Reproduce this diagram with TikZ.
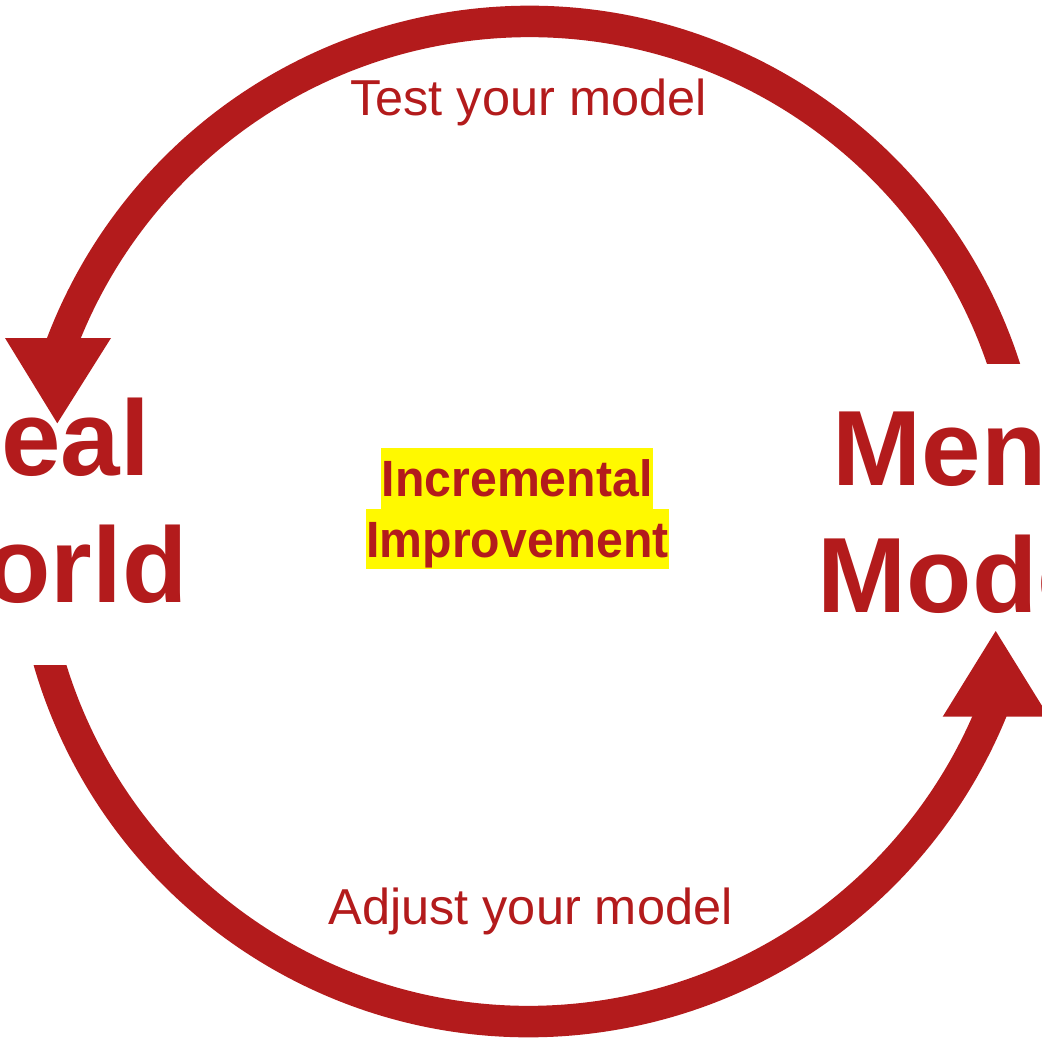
\documentclass[tikz,border=0pt]{standalone}
\usepackage{fontspec}
\setmainfont{Liberation Sans}
\newfontfamily\narrowsans[FakeStretch=0.945]{Liberation Sans}
\definecolor{cyclered}{RGB}{179,27,28}
\definecolor{hilite}{RGB}{255,249,0}
\begin{document}
\begin{tikzpicture}[x=1pt,y=-1pt,
  arcline/.style={draw=cyclered, line width=31.5pt},
  tiphead/.style={fill=cyclered},
  steplabel/.style={text=cyclered, font=\fontsize{50.5}{60}\selectfont, anchor=base, inner sep=0pt},
  bigword/.style={text=cyclered, font=\bfseries\fontsize{107}{127.7}\selectfont, align=center, inner sep=0pt, anchor=base},
  hl/.style={fill=hilite, text=cyclered, font=\narrowsans\bfseries\fontsize{51}{61}\selectfont, inner sep=0pt, text height=36.5pt, text depth=0pt}]
\useasboundingbox (0,0) rectangle (1042,1039);
\clip (0,0) rectangle (1042,1039);
\coordinate (c) at (529,521.5);
% top arc: Mental Models -> Real World
\begin{scope}
  \clip (0,0) rectangle (1042,363);
  \draw[arcline] (c) ++(-10:500) arc[start angle=-10, end angle=-160, radius=500];
\end{scope}
\fill[tiphead] (5,338) -- (111,338) -- (57.3,423.3) -- cycle;
% bottom arc: Real World -> Mental Models
\begin{scope}
  \clip (0,665) rectangle (1042,1039);
  \draw[arcline] (c) ++(170:500) arc[start angle=170, end angle=20, radius=500];
\end{scope}
\fill[tiphead] (942.7,716.7) -- (1048.7,716.7) -- (995.7,631) -- cycle;
% labels
\node[steplabel] (test) at (528.5,115) {Test your model};
\node[steplabel] (adjust) at (530.5,924) {Adjust your model};
\node[bigword] (real) at (37,602.7) {Real\\World};
\node[bigword] (mental) at (1002,612.7) {Mental\\Models};
\node[hl, minimum width=272.3pt, minimum height=60.7pt] (inc) at (517.2,478.6) {Incremental};
\node[hl, minimum width=303.3pt, minimum height=60.3pt] (imp) at (517.7,539.2) {Improvement};
\end{tikzpicture}
\end{document}
